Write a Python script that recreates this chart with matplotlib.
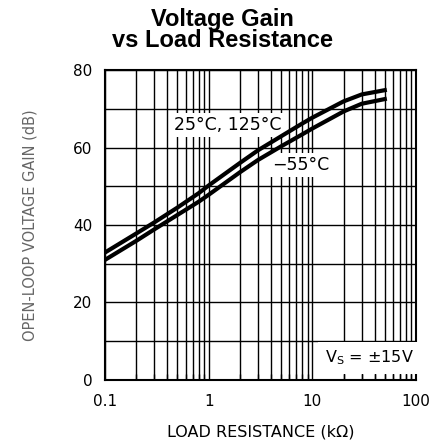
import numpy as np
import matplotlib
matplotlib.use('Agg')
import matplotlib.pyplot as plt
from matplotlib.ticker import LogLocator, FixedLocator, NullFormatter

# load resistance in kOhm and open-loop gain in dB
r_load = [0.1, 0.2, 0.3, 0.5, 0.8, 1.0, 2.0, 3.0, 5.0, 8.0, 10.0, 20.0, 30.0, 50.0]
gain_hot = [32.9, 37.8, 40.7, 44.5, 48.2, 50.2, 56.0, 59.3, 62.9, 66.2, 67.7, 71.9, 73.7, 74.8]   # 25C, 125C
gain_cold = [31.0, 35.9, 38.9, 42.6, 46.0, 47.8, 53.6, 56.8, 60.3, 63.4, 64.9, 69.3, 71.3, 72.5]  # -55C

x_ticks = [0.1, 1, 10, 100]
x_tick_labels = ['0.1', '1', '10', '100']
y_ticks = [0, 20, 40, 60, 80]

fig = plt.figure(figsize=(4.36, 4.46), dpi=100)
ax = fig.add_axes([0.2408, 0.148, 0.7133, 0.695])

ax.set_xscale('log')
ax.set_xlim(0.1, 100)
ax.set_ylim(0, 80)

ax.xaxis.set_major_locator(FixedLocator(x_ticks))
ax.set_xticklabels(x_tick_labels)
ax.xaxis.set_minor_locator(LogLocator(base=10, subs=np.arange(2, 10)))
ax.xaxis.set_minor_formatter(NullFormatter())
ax.yaxis.set_major_locator(FixedLocator(y_ticks))
ax.yaxis.set_minor_locator(FixedLocator([10, 30, 50, 70]))

ax.grid(True, which='both', color='black', linewidth=1.0)
ax.set_axisbelow(True)
ax.tick_params(axis='both', which='both', length=0)
ax.tick_params(axis='x', which='minor', direction='in', length=4, width=1, bottom=True)
ax.tick_params(axis='x', which='major', pad=10, labelsize=11)
ax.tick_params(axis='y', which='major', pad=9, labelsize=11)
for s in ax.spines.values():
    s.set_linewidth(1.5)

ax.plot(r_load, gain_hot, color='black', linewidth=3, solid_joinstyle='round', zorder=4)
ax.plot(r_load, gain_cold, color='black', linewidth=3, solid_joinstyle='round', zorder=4)

box = dict(facecolor='white', edgecolor='none', pad=2)
ax.text(1.54, 65.8, '25°C, 125°C', ha='center', va='center', fontsize=12.5, bbox=box, zorder=3)
ax.text(7.8, 55.5, '\u221255°C', ha='center', va='center', fontsize=12.5, bbox=box, zorder=3)
ax.text(96, 5.7, r'V$_\mathregular{S}$ = ±15V', ha='right', va='center', fontsize=11.5,
        bbox=dict(facecolor='white', edgecolor='none', pad=5), zorder=3)

ax.set_xlabel('LOAD RESISTANCE (k\u03a9)', fontsize=11.5, labelpad=11)
ax.set_ylabel('OPEN-LOOP VOLTAGE GAIN (dB)', fontsize=10.5, labelpad=26, color='#666666')

fig.suptitle('Voltage Gain\nvs Load Resistance', x=0.51, y=0.982, fontsize=17,
             fontweight='bold', family='Liberation Sans', linespacing=0.9)

fig.savefig('out.png', dpi=100)
